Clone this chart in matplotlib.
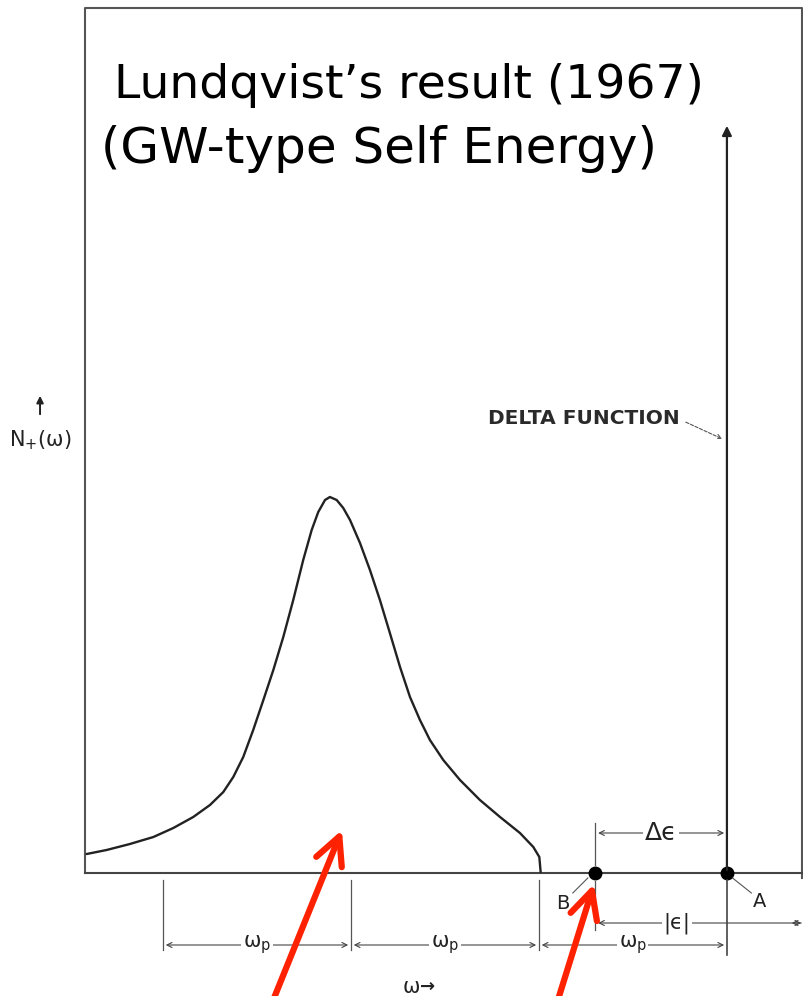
import numpy as np
import matplotlib.pyplot as plt

# spectral function N+(w), w in units of the plasma frequency, A at w = 0
omega_curve = [-3.406, -3.300, -3.176, -3.051, -2.945, -2.839, -2.750, -2.679,
               -2.626, -2.573, -2.520, -2.466, -2.413, -2.360, -2.307, -2.254,
               -2.209, -2.174, -2.138, -2.112, -2.076, -2.041, -2.005, -1.952,
               -1.899, -1.846, -1.793, -1.739, -1.686, -1.633, -1.580, -1.509,
               -1.420, -1.314, -1.207, -1.101, -1.030, -0.998, -0.991]
n_curve = [0.19, 0.23, 0.29, 0.36, 0.45, 0.56, 0.68, 0.81,
           0.96, 1.16, 1.43, 1.73, 2.03, 2.36, 2.73, 3.13,
           3.43, 3.61, 3.73, 3.76, 3.73, 3.65, 3.53, 3.30,
           3.03, 2.73, 2.40, 2.06, 1.76, 1.53, 1.33, 1.13,
           0.93, 0.73, 0.56, 0.40, 0.26, 0.16, 0.01]

eps_A = 0.0      # quasiparticle (delta function)
eps_B = -0.70    # plasmaron
delta_height = 7.50
wp_marks = [-3.0, -2.0, -1.0, 0.0]

fig = plt.figure(figsize=(8.04, 9.96), dpi=100)
ax = fig.add_axes([0, 0, 1, 1])
ax.set_xlim(-3.867, 0.410)
ax.set_ylim(-1.23, 8.73)
ax.axis('off')

ink = '#222222'

# frame
ax.plot([-3.415, -3.415, 0.40, 0.40], [0.0, 8.65, 8.65, -0.05], color='#555555', lw=1.5)
ax.plot([-3.415, 0.41], [0, 0], color='#444444', lw=1.5)

# broad satellite
ax.plot(omega_curve, n_curve, color=ink, lw=1.7, solid_joinstyle='round', solid_capstyle='round')

# delta function
ax.annotate('', xy=(eps_A, delta_height), xytext=(eps_A, 0),
            arrowprops=dict(arrowstyle='-|>', color=ink, lw=1.6, mutation_scale=14))
ax.plot([eps_A, eps_B], [0, 0], 'o', color='black', ms=9)

ax.text(-0.250, 4.55, 'DELTA FUNCTION', fontsize=14.5, fontweight='bold',
        family='DejaVu Sans', ha='right', va='center', color='#2a2a2a')
ax.annotate('', xy=(-0.012, 4.33), xytext=(-0.232, 4.52),
            arrowprops=dict(arrowstyle='->', color='#555555', lw=0.8, ls=(0, (3, 1.5)),
                            mutation_scale=8))

# y label
ax.text(-3.654, 4.33, 'N$_{+}$(ω)', fontsize=15, ha='center', va='center', color=ink)
ax.annotate('', xy=(-3.654, 4.80), xytext=(-3.654, 4.56),
            arrowprops=dict(arrowstyle='-|>', color=ink, lw=1.4, mutation_scale=10))

# extension lines
for w in wp_marks[:3]:
    ax.plot([w, w], [-0.07, -0.77], color='#555555', lw=0.9)
ax.plot([eps_A, eps_A], [-0.07, -0.82], color='#444444', lw=1.2)
ax.plot([eps_B, eps_B], [0.50, 0.08], color='#555555', lw=0.9)
ax.plot([eps_B, eps_B], [-0.08, -0.57], color='#555555', lw=0.9)

dim = dict(arrowstyle='<->', color='#444444', lw=0.8, mutation_scale=9)
y_wp = -0.72
for a, b in zip(wp_marks[:-1], wp_marks[1:]):
    ax.annotate('', xy=(a, y_wp), xytext=(b, y_wp), arrowprops=dim)
    ax.text((a + b) / 2, y_wp, 'ω$_{\\mathrm{p}}$', fontsize=15, ha='center', va='center',
            color=ink, bbox=dict(fc='white', ec='none', pad=1))

# delta epsilon
ax.annotate('', xy=(eps_B, 0.40), xytext=(eps_A, 0.40), arrowprops=dim)
ax.text((eps_A + eps_B) / 2, 0.40, 'Δϵ', fontsize=18, ha='center', va='center',
        color=ink, bbox=dict(fc='white', ec='none', pad=1))

# |epsilon|
ax.annotate('', xy=(eps_B, -0.50), xytext=(0.41, -0.50), arrowprops=dim)
ax.annotate('', xy=(0.33, -0.50), xytext=(0.41, -0.50),
            arrowprops=dict(arrowstyle='->', color='#444444', lw=0.8, mutation_scale=9))
ax.text(-0.265, -0.50, '|ϵ|', fontsize=15, ha='center', va='center',
        color=ink, bbox=dict(fc='white', ec='none', pad=1))

# point labels
ax.text(-0.875, -0.30, 'B', fontsize=14, ha='center', va='center', color=ink)
ax.plot([-0.82, -0.74], [-0.20, -0.05], color='#555555', lw=0.8)
ax.text(0.175, -0.28, 'A', fontsize=14, ha='center', va='center', color=ink)
ax.plot([0.03, 0.13], [-0.05, -0.20], color='#555555', lw=0.8)

ax.text(-1.68, -1.14, 'ω', fontsize=15, ha='center', va='center', color=ink)
ax.text(-1.595, -1.14, '→', fontsize=13, fontweight='bold', ha='center', va='center', color=ink)

# title
ax.text(-3.262, 7.88, 'Lundqvist’s result (1967)', fontsize=34, ha='left', va='center', color='black')
ax.text(-3.330, 7.24, '(GW-type Self Energy)', fontsize=36, ha='left', va='center', color='black')

# red pointers
red = dict(arrowstyle='->,head_length=0.9,head_width=0.45', color='#ff2200', lw=4.5,
           mutation_scale=22, shrinkA=0, shrinkB=0)
ax.annotate('', xy=(-2.048, 0.43), xytext=(-2.420, -1.30), arrowprops=red, annotation_clip=False)
ax.annotate('', xy=(-0.707, -0.11), xytext=(-0.904, -1.30), arrowprops=red, annotation_clip=False)

fig.savefig('out.png', dpi=100)
